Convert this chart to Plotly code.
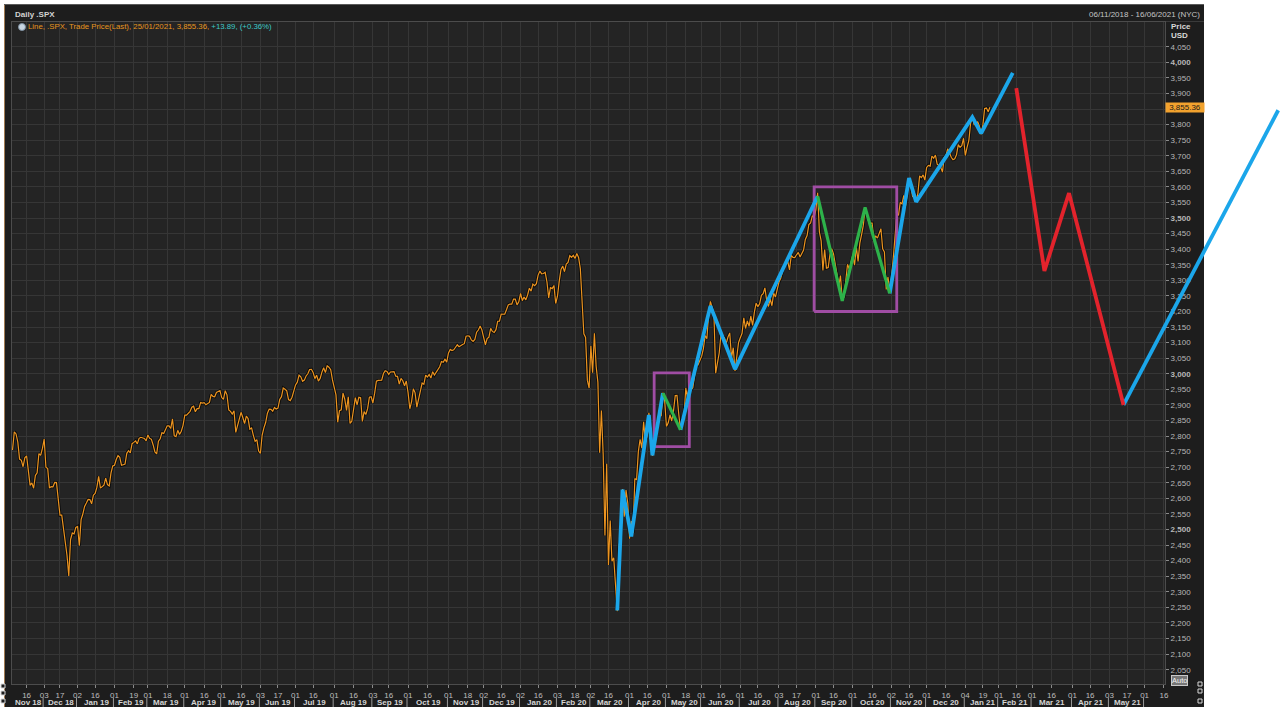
import pandas as pd
import plotly.graph_objects as go

# ---------------- data ----------------
HOLIDAYS = ["2018-11-22", "2018-12-05", "2018-12-25", "2019-01-01", "2019-01-21", "2019-02-18",
            "2019-04-19", "2019-05-27", "2019-07-04", "2019-09-02", "2019-11-28", "2019-12-25",
            "2020-01-01", "2020-01-20", "2020-02-17", "2020-04-10", "2020-05-25", "2020-07-03",
            "2020-09-07", "2020-11-26", "2020-12-25", "2021-01-01", "2021-01-18", "2021-02-15",
            "2021-04-02", "2021-05-31", "2021-07-05", "2021-09-06"]

close_2018 = [2755.45, 2813.89, 2806.83, 2781.01, 2726.22, 2722.18, 2701.58, 2730.20, 2736.27, 2690.73,
              2641.89, 2649.93, 2632.56, 2673.45, 2682.17, 2743.79, 2737.80, 2760.17,
              2790.37, 2700.06, 2695.95, 2633.08, 2637.72, 2636.78, 2651.07, 2650.54, 2599.95, 2545.94,
              2546.16, 2506.96, 2467.42, 2416.62, 2351.10, 2467.70, 2488.83, 2485.74, 2506.85]

close_2019 = [2510.03, 2447.89, 2531.94, 2549.69, 2574.41, 2584.96, 2596.64, 2596.26, 2582.61, 2610.30,
              2616.10, 2635.96, 2670.71, 2632.90, 2638.70, 2642.33, 2664.76, 2643.85, 2640.00, 2681.05, 2704.10,
              2706.53, 2724.87, 2737.70, 2731.61, 2706.05, 2707.88, 2709.80, 2744.73, 2753.03, 2745.73,
              2775.60, 2779.76, 2784.70, 2774.88, 2792.67, 2796.11, 2793.90, 2792.38, 2784.49,
              2803.69, 2792.81, 2789.65, 2771.45, 2748.93, 2743.07, 2783.30, 2791.52, 2810.92, 2808.48,
              2822.48, 2832.94, 2832.57, 2824.23, 2854.88, 2800.71, 2798.36, 2818.46, 2805.37, 2815.44, 2834.40,
              2867.19, 2867.24, 2873.40, 2879.39, 2892.74, 2895.77, 2878.20, 2888.21, 2888.32, 2907.41,
              2905.58, 2907.06, 2900.45, 2905.03, 2907.97, 2933.68, 2927.25, 2926.17, 2939.88, 2943.03, 2945.83,
              2923.73, 2917.52, 2945.64, 2932.47, 2884.05, 2879.42, 2870.72, 2881.40, 2811.87, 2834.41,
              2850.96, 2876.32, 2859.53, 2840.23, 2864.36, 2856.27, 2822.24, 2826.06, 2802.39, 2783.02,
              2788.86, 2752.06,
              2744.45, 2803.27, 2826.15, 2843.49, 2873.34, 2886.73, 2885.72, 2879.84, 2891.64, 2886.98,
              2889.67, 2917.75, 2926.46, 2954.18, 2950.46, 2945.35, 2917.38, 2913.78, 2924.92, 2941.76,
              2964.33, 2973.01, 2995.82, 2990.41, 2975.95, 2979.63, 2993.07, 2999.91, 3013.77, 3014.30,
              3004.04, 2984.42, 2995.11, 2976.61, 2985.03, 3005.47, 3019.56, 3003.67, 3025.86, 3020.97,
              3013.18, 2980.38,
              2953.56, 2932.05, 2844.74, 2881.77, 2883.98, 2938.09, 2918.65, 2882.70, 2926.32, 2840.60,
              2847.60, 2888.68, 2923.65, 2900.51, 2924.43, 2922.95, 2847.11, 2878.38, 2869.16, 2887.94,
              2924.58, 2926.46,
              2906.27, 2937.78, 2976.00, 2978.71, 2978.43, 2979.39, 3000.93, 3009.57, 3007.39, 2997.96,
              3005.70, 3006.73, 3006.79, 2992.07, 2991.78, 2966.60, 2984.87, 2977.62, 2961.79, 2976.74,
              2940.25, 2887.61, 2910.63, 2952.01, 2938.79, 2893.06, 2919.40, 2938.13, 2970.27, 2966.15,
              2995.68, 2989.69, 2997.95, 2986.20, 3006.72, 2995.99, 3004.52, 3010.29, 3022.55, 3039.42,
              3036.89, 3046.77, 3037.56,
              3066.91, 3078.27, 3074.62, 3076.78, 3085.18, 3093.08, 3087.01, 3091.84, 3094.04, 3096.63,
              3120.46, 3122.03, 3120.18, 3108.46, 3103.54, 3110.29, 3133.64, 3140.52, 3153.63, 3140.98,
              3113.87, 3093.20, 3112.76, 3117.43, 3145.91, 3135.96, 3132.52, 3141.63, 3168.57, 3168.80,
              3191.45, 3192.52, 3191.14, 3205.37, 3221.22, 3224.01, 3223.38, 3239.91, 3240.02, 3221.29, 3230.78]

close_2020 = [3257.85, 3234.85, 3246.28, 3237.18, 3253.05, 3274.70, 3265.35, 3288.13, 3283.15, 3289.29,
              3316.81, 3329.62, 3320.79, 3321.75, 3325.54, 3295.47, 3243.63, 3276.24, 3273.40, 3283.66, 3225.52,
              3248.92, 3297.59, 3334.69, 3345.78, 3327.71, 3352.09, 3357.75, 3379.45, 3373.94, 3380.16,
              3370.29, 3386.15, 3373.23, 3337.75, 3225.89, 3128.21, 3116.39, 2978.76, 2954.22,
              3090.23, 3003.37, 3130.12, 3023.94, 2972.37, 2746.56, 2882.23, 2741.38, 2480.64, 2711.02,
              2386.13, 2529.19, 2398.10, 2409.39, 2304.92, 2237.40, 2447.33, 2475.56, 2630.07, 2541.47,
              2626.65, 2584.59,
              2470.50, 2526.90, 2488.65, 2663.68, 2659.41, 2749.98, 2789.82, 2761.63, 2846.06, 2783.36,
              2799.55, 2874.56, 2823.16, 2736.56, 2799.31, 2797.80, 2836.74, 2878.48, 2863.39, 2939.51, 2912.43,
              2830.71, 2842.74, 2868.44, 2848.42, 2881.19, 2929.80, 2930.32, 2870.12, 2820.00, 2852.50,
              2863.70, 2953.91, 2922.94, 2971.61, 2948.51, 2955.45, 2991.77, 3036.13, 3029.73, 3044.31,
              3055.73, 3080.82, 3122.87, 3112.35, 3193.93, 3232.39, 3207.18, 3190.14, 3002.10, 3041.31,
              3066.59, 3124.74, 3113.49, 3115.34, 3097.74, 3117.86, 3131.29, 3050.33, 3083.76, 3009.05,
              3053.24, 3100.29,
              3115.86, 3130.01, 3179.72, 3145.32, 3169.94, 3152.05, 3185.04, 3155.22, 3197.52, 3226.56,
              3215.57, 3224.73, 3251.84, 3257.30, 3276.02, 3235.66, 3215.63, 3239.41, 3218.44, 3258.44,
              3246.22, 3271.12,
              3294.61, 3306.51, 3327.77, 3349.16, 3351.28, 3360.47, 3333.69, 3380.35, 3373.43, 3372.85,
              3381.99, 3389.78, 3374.85, 3385.51, 3397.16, 3431.28, 3443.62, 3478.73, 3484.55, 3508.01, 3500.31,
              3526.65, 3580.84, 3455.06, 3426.96, 3331.84, 3398.96, 3339.19, 3340.97, 3383.54, 3401.20,
              3385.49, 3357.01, 3319.47, 3281.06, 3315.57, 3236.92, 3246.59, 3298.46, 3351.60, 3335.47, 3363.00,
              3380.80, 3348.42, 3408.60, 3360.97, 3419.44, 3446.83, 3477.14, 3534.22, 3511.93, 3488.67,
              3483.34, 3483.81, 3426.92, 3443.12, 3435.56, 3453.49, 3465.39, 3400.97, 3390.68, 3271.03,
              3310.11, 3269.96,
              3310.24, 3369.16, 3443.44, 3510.45, 3509.44, 3550.50, 3545.53, 3572.66, 3537.01, 3585.15,
              3626.91, 3609.53, 3567.79, 3581.87, 3557.54, 3577.59, 3635.41, 3629.65, 3638.35, 3621.63,
              3662.45, 3669.01, 3666.72, 3699.12, 3691.96, 3702.25, 3672.82, 3668.10, 3663.46, 3647.49,
              3694.62, 3701.17, 3722.48, 3709.41, 3694.92, 3687.26, 3690.01, 3703.06, 3735.36, 3727.04,
              3732.04, 3756.07]

close_2021 = [3700.65, 3726.86, 3748.14, 3803.79, 3824.68, 3799.61, 3801.19, 3809.84, 3795.54, 3768.25,
              3798.91, 3851.85, 3853.07, 3841.47, 3855.36]

# hand-drawn wave annotations (date, price)
blue1_dates = ["2020-03-23", "2020-03-26", "2020-04-02", "2020-04-17", "2020-04-21", "2020-04-29"]
blue1_vals = [2240, 2628, 2478, 2868, 2738, 2938]
green1_dates = ["2020-04-29", "2020-05-13"]
green1_vals = [2938, 2820]
blue2_dates = ["2020-05-13", "2020-06-08", "2020-06-26", "2020-09-02"]
blue2_vals = [2820, 3218, 3015, 3570]
green2_dates = ["2020-09-02", "2020-09-23", "2020-10-12", "2020-10-30"]
green2_vals = [3570, 3234, 3534, 3258]
blue3_dates = ["2020-10-30", "2020-11-16", "2020-11-20", "2021-01-08", "2021-01-15", "2021-02-11"]
blue3_vals = [3258, 3628, 3552, 3824, 3772, 3966]
red_dates = ["2021-02-16", "2021-03-10", "2021-03-30", "2021-05-13"]
red_vals = [3917, 3330, 3580, 2900]
blue4_dates = ["2021-05-13", "2021-09-17"]
blue4_vals = [2900, 3846]

box1_dates = ["2020-04-22", "2020-05-20"]
box1_vals = [2766, 3003]
box2_dates = ["2020-08-31", "2020-11-05"]
box2_vals = [3200, 3600]

month_starts = ["2018-12-03", "2019-01-02", "2019-02-01", "2019-03-01", "2019-04-01", "2019-05-01",
                "2019-06-03", "2019-07-01", "2019-08-01", "2019-09-03", "2019-10-01", "2019-11-01",
                "2019-12-02", "2020-01-02", "2020-02-03", "2020-03-02", "2020-04-01", "2020-05-01",
                "2020-06-01", "2020-07-01", "2020-08-03", "2020-09-01", "2020-10-01", "2020-11-02",
                "2020-12-01", "2021-01-04", "2021-02-01", "2021-03-01", "2021-04-01", "2021-05-03",
                "2021-06-01"]
mid_ticks = ["2018-11-16", "2018-12-17", "2019-01-16", "2019-02-19", "2019-03-18", "2019-04-16",
             "2019-05-16", "2019-06-17", "2019-07-16", "2019-08-16", "2019-09-16", "2019-10-16",
             "2019-11-18", "2019-12-16", "2020-01-16", "2020-02-18", "2020-03-16", "2020-04-16",
             "2020-05-18", "2020-06-16", "2020-07-16", "2020-08-17", "2020-09-16", "2020-10-16",
             "2020-11-16", "2020-12-16", "2021-01-19", "2021-02-16", "2021-03-16", "2021-04-16",
             "2021-05-17", "2021-06-16"]
month_labels = ["Nov 18", "Dec 18", "Jan 19", "Feb 19", "Mar 19", "Apr 19", "May 19", "Jun 19", "Jul 19",
                "Aug 19", "Sep 19", "Oct 19", "Nov 19", "Dec 19", "Jan 20", "Feb 20", "Mar 20", "Apr 20",
                "May 20", "Jun 20", "Jul 20", "Aug 20", "Sep 20", "Oct 20", "Nov 20", "Dec 20", "Jan 21",
                "Feb 21", "Mar 21", "Apr 21", "May 21"]
y_tick_vals = list(range(2050, 4051, 50))
y_hidden_tick = 3850          # covered by the last-price flag in the reference
last_price = 3855.36

# ---------------- trading-day scale ----------------
sessions = pd.bdate_range("2018-11-06", "2021-12-31", freq="C", holidays=HOLIDAYS)
pos_of = {d: i for i, d in enumerate(sessions)}


def tpos(s):
    return pos_of[pd.Timestamp(s)]


closes = close_2018 + close_2019 + close_2020 + close_2021
close_x = list(range(len(closes)))

W, H = 1280, 707


def fx(px):
    return px / W


def fy(py):
    return 1 - py / H


PL, PR, PT, PB = 12, 1165, 22, 684
XLO, XHI = -0.3, 655.6
YLO, YHI = 2004.1, 4129.3
d0, d1 = fx(PL), fx(PR)
e0, e1 = fy(PB), fy(PT)
xs = (XHI - XLO) / (d1 - d0)
ys = (YHI - YLO) / (e1 - e0)
X2LO, X2HI = XLO - d0 * xs, XHI + (1 - d1) * xs
Y2LO, Y2HI = YLO - e0 * ys, YHI + (1 - e1) * ys

FONT = "Liberation Sans, Arial, sans-serif"

fig = go.Figure()
fig.add_trace(go.Scatter(x=close_x, y=closes, mode="lines",
                         line=dict(color="#0b0b0b", width=3.0), hoverinfo="skip"))
fig.add_trace(go.Scatter(x=close_x, y=closes, mode="lines",
                         line=dict(color="#EC9420", width=1.2)))


def box_trace(dates, vals):
    a, b = tpos(dates[0]), tpos(dates[1])
    return go.Scatter(x=[a, b, b, a, a], y=[vals[0], vals[0], vals[1], vals[1], vals[0]],
                      mode="lines", line=dict(color="#A04DA4", width=2.8),
                      xaxis="x2", yaxis="y2", hoverinfo="skip")


def wave(dates, vals, color, width):
    return go.Scatter(x=[tpos(d) for d in dates], y=vals, mode="lines",
                      line=dict(color=color, width=width), xaxis="x2", yaxis="y2")


fig.add_trace(box_trace(box1_dates, box1_vals))
fig.add_trace(box_trace(box2_dates, box2_vals))
BLUE, GREEN, RED = "#1BA6EA", "#2DB24A", "#E3232C"
fig.add_trace(wave(blue1_dates, blue1_vals, BLUE, 3.8))
fig.add_trace(wave(blue2_dates, blue2_vals, BLUE, 3.8))
fig.add_trace(wave(blue3_dates, blue3_vals, BLUE, 3.8))
fig.add_trace(wave(blue4_dates, blue4_vals, BLUE, 3.8))
fig.add_trace(wave(green1_dates, green1_vals, GREEN, 3.2))
fig.add_trace(wave(green2_dates, green2_vals, GREEN, 3.2))
fig.add_trace(wave(red_dates, red_vals, RED, 3.8))

tick_dates = sorted(month_starts + mid_ticks)
tick_pos = [tpos(d) for d in tick_dates]
tick_text = [pd.Timestamp(d).strftime("%d") for d in tick_dates]
y_text = []
for v in y_tick_vals:
    if v == y_hidden_tick:
        y_text.append("")
    elif v % 500 == 0:
        y_text.append("<b>{:,}</b>".format(v))
    else:
        y_text.append("{:,}".format(v))

shapes = [
    dict(type="rect", xref="paper", yref="paper", x0=fx(4), x1=fx(1204), y0=0, y1=fy(4),
         fillcolor="#1d1d1d", line=dict(width=0), layer="below"),
    dict(type="rect", xref="x domain", yref="y domain", x0=0, x1=1, y0=0, y1=1,
         fillcolor="#242424", line=dict(width=0), layer="below"),
    dict(type="line", xref="paper", yref="paper", x0=fx(4.5), x1=fx(4.5), y0=0, y1=fy(4),
         line=dict(color="#a07a52", width=1), layer="below"),
    dict(type="line", xref="paper", yref="paper", x0=fx(4), x1=fx(1204), y0=fy(4.5), y1=fy(4.5),
         line=dict(color="#5a5a5a", width=1), layer="below"),
    dict(type="line", xref="paper", yref="paper", x0=fx(PL), x1=fx(1204), y0=fy(21.5), y1=fy(21.5),
         line=dict(color="#3a3a3a", width=1), layer="below"),
    dict(type="circle", xref="paper", yref="paper", x0=fx(18.5), x1=fx(25.5), y0=fy(30.5), y1=fy(23.5),
         fillcolor="#c9d6e2", line=dict(color="#7d8fa0", width=1)),
]
for d in month_starts:
    p = tpos(d) - 0.6
    shapes.append(dict(type="line", xref="x", yref="paper", x0=p, x1=p, y0=fy(707), y1=fy(697.5),
                       line=dict(color="#9a9a9a", width=1)))
for yy in (684, 691, 699):
    shapes.append(dict(type="rect", xref="paper", yref="paper", x0=fx(1), x1=fx(5), y0=fy(yy + 4), y1=fy(yy),
                       fillcolor="#1d1d1d", line=dict(color="#d8d8d8", width=1)))
for yy in (682, 689, 699):
    shapes.append(dict(type="rect", xref="paper", yref="paper", x0=fx(1198), x1=fx(1202), y0=fy(yy + 4),
                       y1=fy(yy), fillcolor="#1d1d1d", line=dict(color="#d8d8d8", width=1)))

annotations = [
    dict(xref="paper", yref="paper", x=fx(13), y=fy(14.5), xanchor="left", yanchor="middle",
         text="<b>Daily .SPX</b>", showarrow=False, font=dict(family=FONT, size=8, color="#d2d2d2")),
    dict(xref="paper", yref="paper", x=fx(1202), y=fy(14.5), xanchor="right", yanchor="middle",
         text="06/11/2018 - 16/06/2021 (NYC)", showarrow=False,
         font=dict(family=FONT, size=8, color="#c4c4c4")),
    dict(xref="paper", yref="paper", x=fx(26), y=fy(27), xanchor="left", yanchor="middle",
         text='<span style="color:#E8961E">Line, .SPX, Trade Price(Last), 25/01/2021, 3,855.36, </span>'
              '<span style="color:#3CC8C8">+13.89, (+0.36%)</span>',
         showarrow=False, font=dict(family=FONT, size=7.8, color="#E8961E")),
    dict(xref="paper", yref="paper", x=fx(1168.5), y=fy(26), xanchor="left", yanchor="middle",
         text="<b>Price</b>", showarrow=False, font=dict(family=FONT, size=8, color="#d8d8d8")),
    dict(xref="paper", yref="paper", x=fx(1168.5), y=fy(36), xanchor="left", yanchor="middle",
         text="<b>USD</b>", showarrow=False, font=dict(family=FONT, size=8, color="#d8d8d8")),
    dict(xref="paper", yref="y", x=fx(1184.5), y=last_price, xanchor="center", yanchor="middle",
         text="3,855.36", showarrow=False, bgcolor="#F2A22E", borderpad=0, width=38, height=9,
         font=dict(family=FONT, size=8, color="#1a1a1a")),
    dict(xref="paper", yref="paper", x=fx(1179.5), y=fy(680.5), xanchor="center", yanchor="middle",
         text="Auto", showarrow=False, bgcolor="#777777", bordercolor="#c8c8c8", borderwidth=1,
         borderpad=0, font=dict(family=FONT, size=7.5, color="#f2f2f2")),
]
bounds = [0] + [tpos(d) for d in month_starts]
for i, lab in enumerate(month_labels):
    mid = (bounds[i] + bounds[i + 1]) / 2.0
    annotations.append(dict(xref="x", yref="paper", x=mid, y=fy(702), xanchor="center", yanchor="middle",
                            text="<b>" + lab + "</b>", showarrow=False,
                            font=dict(family=FONT, size=8, color="#d4d4d4")))

fig.update_layout(
    template="none",
    width=W, height=H,
    margin=dict(l=0, r=0, t=0, b=0, pad=0),
    paper_bgcolor="#ffffff",
    plot_bgcolor="rgba(0,0,0,0)",
    showlegend=False,
    hovermode=False,
    xaxis=dict(domain=[d0, d1], range=[XLO, XHI], anchor="y", tickmode="array", tickvals=tick_pos,
               ticktext=tick_text, ticks="outside", ticklen=3, tickcolor="#8a8a8a",
               tickfont=dict(family=FONT, size=8, color="#bdbdbd"), showgrid=True, gridcolor="#363636",
               gridwidth=1, showline=True, linecolor="#4c4c4c", mirror=True, zeroline=False,
               automargin=False, fixedrange=True),
    yaxis=dict(domain=[e0, e1], range=[YLO, YHI], anchor="x", side="right", tickmode="array",
               tickvals=y_tick_vals, ticktext=y_text, ticks="outside", ticklen=3, tickcolor="#8a8a8a",
               tickfont=dict(family=FONT, size=8, color="#b8b8b8"), showgrid=True, gridcolor="#363636",
               gridwidth=1, showline=True, linecolor="#4c4c4c", mirror=True, zeroline=False,
               automargin=False, fixedrange=True),
    xaxis2=dict(domain=[0, 1], range=[X2LO, X2HI], anchor="y2", visible=False, fixedrange=True),
    yaxis2=dict(domain=[0, 1], range=[Y2LO, Y2HI], anchor="x2", visible=False, fixedrange=True),
    shapes=shapes,
    annotations=annotations,
)

fig.write_html("out.html", config={"displayModeBar": False},
               post_script="document.body.style.margin='0';document.body.style.overflow='hidden';")
